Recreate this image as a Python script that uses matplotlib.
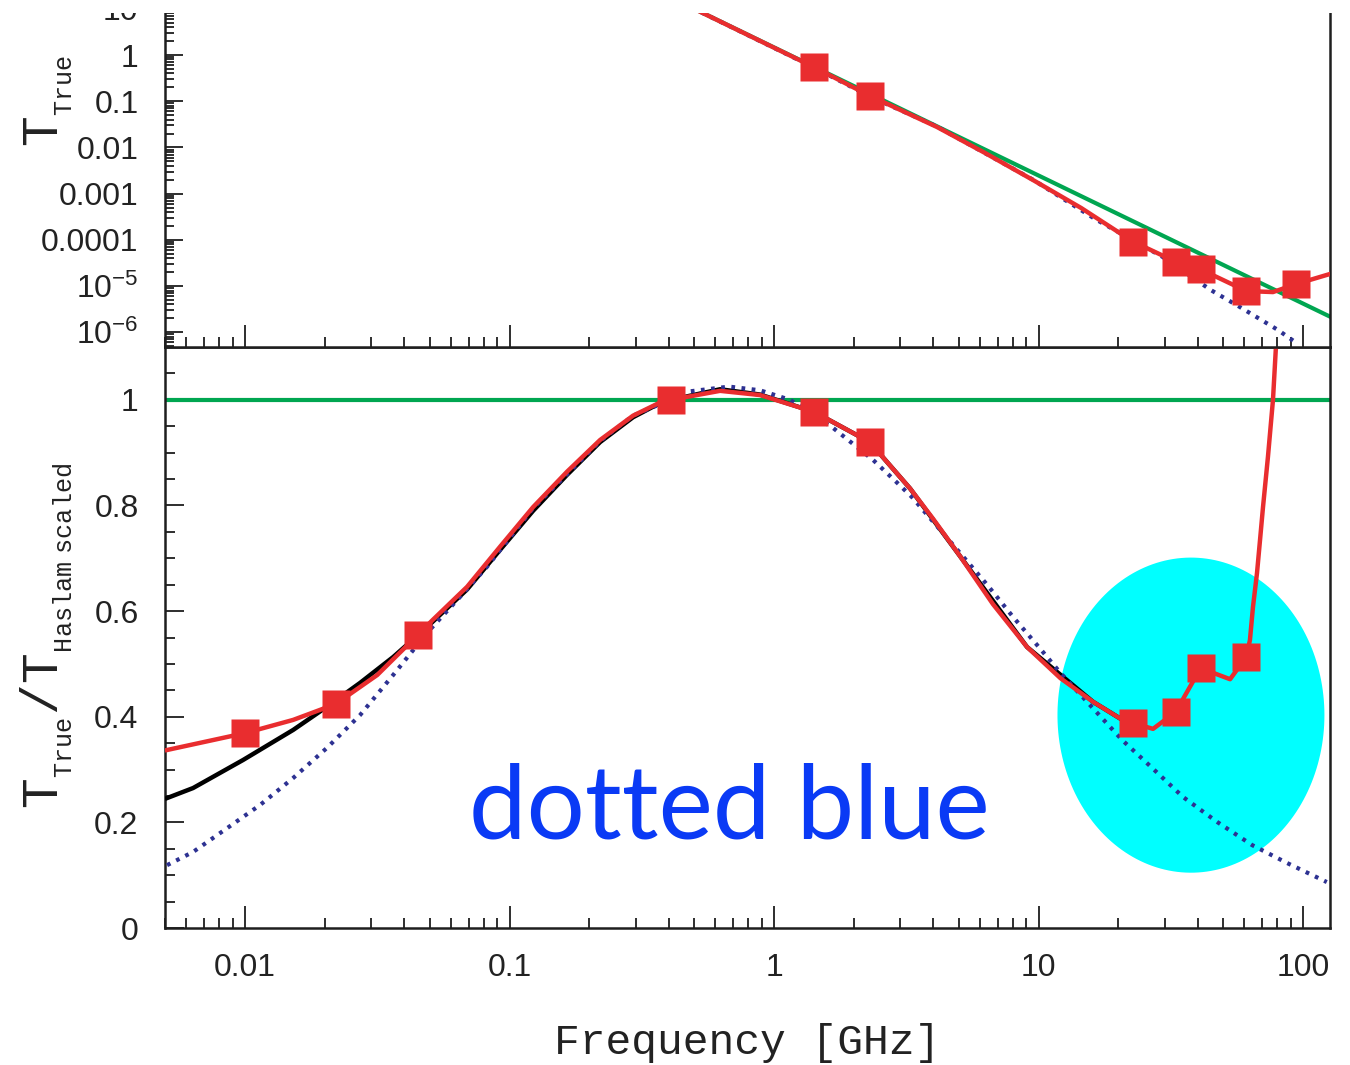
import numpy as np
import matplotlib
matplotlib.use('Agg')
import matplotlib.pyplot as plt
from matplotlib.ticker import FixedLocator, FixedFormatter, LogLocator, MultipleLocator, NullFormatter
from matplotlib.patches import Rectangle

plt.rcParams['font.family'] = ['Liberation Sans', 'DejaVu Sans']
plt.rcParams['mathtext.default'] = 'regular'

# channel frequencies [GHz] and T_true / T_Haslam,scaled at each (94 GHz is off scale)
nu_chan = [0.010, 0.022, 0.045, 0.408, 1.42, 2.3, 22.8, 33.0, 41.0, 61.0, 94.0]
ratio_chan = [0.369, 0.424, 0.555, 1.000, 0.977, 0.920, 0.388, 0.409, 0.492, 0.513, 2.6]

# T_true [K] at the channels visible in the upper panel
nu_top = [1.42, 2.3, 22.8, 33.0, 41.0, 61.0, 94.0]
t_top = [0.542, 0.1315, 9.1e-5, 3.36e-5, 2.30e-5, 7.8e-6, 1.10e-5]

# fitted spectrum, ratio to scaled Haslam
fit_nu = [0.00507, 0.010, 0.0152, 0.022, 0.0316, 0.045, 0.0514, 0.0691, 0.0921, 0.1228,
          0.165, 0.220, 0.293, 0.371, 0.408, 0.625, 0.885, 1.42, 2.3, 3.27, 3.99, 5.05,
          6.73, 9.05, 12.1, 16.1, 20.3, 22.8, 27.1, 33.0, 41.0, 53.0, 61.0, 63.0, 64.7,
          67.0, 68.8, 70.6, 73.7, 77.0, 79.0, 81.0]
fit_ratio = [0.337, 0.369, 0.394, 0.424, 0.479, 0.555, 0.584, 0.646, 0.722, 0.797,
             0.864, 0.924, 0.970, 0.995, 1.000, 1.017, 1.009, 0.977, 0.920, 0.832, 0.775, 0.704,
             0.613, 0.532, 0.473, 0.428, 0.397, 0.388, 0.377, 0.409, 0.492, 0.471, 0.513, 0.545, 0.608,
             0.672, 0.735, 0.797, 0.892, 1.000, 1.100, 1.250]

# model without low-frequency absorption
model_nu = [0.00507, 0.00636, 0.00982, 0.0152, 0.0204, 0.0272, 0.0363, 0.0488, 0.0691, 0.0921,
            0.1228, 0.165, 0.220, 0.293, 0.371, 0.408, 0.625, 0.885, 1.42, 2.3, 3.27, 5.05,
            9.05, 16.1, 20.3]
model_ratio = [0.246, 0.265, 0.318, 0.375, 0.419, 0.464, 0.513, 0.570, 0.641, 0.716,
               0.790, 0.858, 0.920, 0.967, 0.994, 1.000, 1.020, 1.010, 0.977, 0.920, 0.832, 0.704,
               0.532, 0.428, 0.397]

# synchrotron-only curve (dotted)
sync_nu = [0.00507, 0.00636, 0.00855, 0.0114, 0.0152, 0.0204, 0.0272, 0.0363, 0.0488, 0.0650,
           0.0822, 0.1228, 0.220, 0.293, 0.481, 0.676, 0.885, 1.149, 1.67, 2.37, 2.92, 3.32,
           5.05, 6.39, 8.01, 10.1, 12.1, 15.4, 20.7, 26.9, 35.2, 47.3, 64.2, 87.1, 123.0]
sync_ratio = [0.119, 0.144, 0.189, 0.233, 0.284, 0.341, 0.403, 0.479, 0.559, 0.627,
              0.684, 0.795, 0.922, 0.970, 1.016, 1.025, 1.018, 1.000, 0.947, 0.886, 0.843, 0.816,
              0.710, 0.650, 0.589, 0.530, 0.483, 0.426, 0.356, 0.303, 0.248, 0.201, 0.157, 0.123, 0.087]

# upper panel curves, T [K]
topfit_nu = [0.408, 1.42, 2.3, 4.13, 6.28, 9.53, 14.5, 22.8, 33.0, 41.0, 61.0, 77.0, 94.0, 130.0]
topfit_t = [17.5, 0.542, 0.1315, 0.0277, 7.57e-3, 1.97e-3, 4.88e-4, 9.1e-5, 3.36e-5, 2.30e-5,
            7.8e-6, 7.4e-6, 1.10e-5, 1.91e-5]
haslam_nu = [0.408, 126.0]
haslam_t = [17.5, 2.2e-6]
topsync_nu = [0.408, 1.42, 2.3, 4.13, 9.53, 16.4, 29.4, 44.8, 57.5, 80.4, 94.9]
topsync_t = [17.5, 0.533, 0.127, 0.0283, 2.0e-3, 2.8e-4, 4.3e-5, 8.2e-6, 3.56e-6, 1.12e-6, 5.75e-7]

# highlighted region: centre (GHz, ratio) and half-axes (decades, ratio)
hl_center = (37.7, 0.403)
hl_half = (0.5047, 0.2983)

x_ticks = [0.01, 0.1, 1, 10, 100]
x_labels = ['0.01', '0.1', '1', '10', '100']
top_y_ticks = [1e-6, 1e-5, 1e-4, 1e-3, 1e-2, 0.1, 1, 10, 100]
top_y_labels = ['$10^{-6}$', '$10^{-5}$', '0.0001', '0.001', '0.01', '0.1', '1', '10', '100']
bot_y_ticks = [0, 0.2, 0.4, 0.6, 0.8, 1.0]
bot_y_labels = ['0', '0.2', '0.4', '0.6', '0.8', '1']

RED = '#e92d2f'
GREEN = '#00a651'
NAVY = '#2d3192'
AXC = '#1e1e1e'
TXT = '#222222'
MONO = ['Liberation Mono', 'DejaVu Sans Mono']
DOTS = (0, (0.9, 1.55))

W, H = 1350, 1065
fig = plt.figure(figsize=(W / 100, H / 100), dpi=100)
ax_bot = fig.add_axes([165 / W, 1 - 928 / H, 1165 / W, 581 / H])
ax_top = fig.add_axes([165 / W, 1 - 347 / H, 1165 / W, 384.4 / H], sharex=ax_bot)

xlim = (0.00498, 126.5)

# ---- lower panel: ratio
ax = ax_bot
th = np.linspace(0, 2 * np.pi, 200)
ex = 10 ** (np.log10(hl_center[0]) + hl_half[0] * np.cos(th))
ey = hl_center[1] + hl_half[1] * np.sin(th)
ax.fill(ex, ey, color='#00ffff', lw=0, zorder=1)
ax.axhline(1.0, color=GREEN, lw=3.0, zorder=2)
ax.plot(model_nu, model_ratio, color='black', lw=3.2, zorder=3, solid_joinstyle='round')
ax.plot(sync_nu, sync_ratio, color=NAVY, lw=3.0, ls=DOTS, zorder=4)
ax.plot(fit_nu, fit_ratio, color=RED, lw=3.2, zorder=5, solid_joinstyle='round')
ax.plot(nu_chan, ratio_chan, ls='none', marker='s', ms=19.5, mec='none', mfc=RED, zorder=6)
ax.text(0.676, 0.170, 'dotted blue', ha='center', va='baseline', fontsize=74,
        family=['Lato', 'DejaVu Sans'], color='#0a3af5', zorder=7)

ax.set_xscale('log')
ax.set_xlim(*xlim)
ax.set_ylim(0, 1.1)
ax.xaxis.set_major_locator(FixedLocator(x_ticks))
ax.xaxis.set_major_formatter(FixedFormatter(x_labels))
ax.xaxis.set_minor_locator(LogLocator(base=10, subs=np.arange(2, 10), numticks=20))
ax.xaxis.set_minor_formatter(NullFormatter())
ax.yaxis.set_major_locator(FixedLocator(bot_y_ticks))
ax.yaxis.set_major_formatter(FixedFormatter(bot_y_labels))
ax.yaxis.set_minor_locator(MultipleLocator(0.05))
ax.tick_params(axis='x', which='major', direction='in', length=16, width=1.3, pad=18,
               labelsize=23, color=AXC, labelcolor=TXT)
ax.tick_params(axis='x', which='minor', direction='in', length=7.5, width=1.3, color=AXC)
ax.tick_params(axis='y', which='major', direction='in', length=14, width=1.3, pad=19,
               labelsize=23, color=AXC, labelcolor=TXT)
ax.tick_params(axis='y', which='minor', direction='in', length=7, width=1.3, color=AXC)
ax.set_xlabel('Frequency [GHz]', fontsize=31, family=MONO, va='center', color=TXT)
ax.xaxis.set_label_coords(0.5, -(1043 - 928) / 581)
ax.set_ylabel(r'$T_{{}_{True}}/T_{{}_{Haslam\ scaled}}$', fontsize=37, family=MONO,
              va='center', ha='center', color=TXT)
ax.yaxis.set_label_coords((46 - 165) / 1165, (928 - 636) / 581)

# ---- upper panel: temperature
ax = ax_top
ax.plot(haslam_nu, haslam_t, color=GREEN, lw=3.0, zorder=2)
ax.plot(topsync_nu, topsync_t, color=NAVY, lw=3.0, ls=DOTS, zorder=3)
ax.plot(topfit_nu, topfit_t, color=RED, lw=3.2, zorder=4, solid_joinstyle='round')
ax.plot(nu_top, t_top, ls='none', marker='s', ms=19.5, mec='none', mfc=RED, zorder=5)
ax.set_yscale('log')
ax.set_xlim(*xlim)
ax.set_ylim(4.79e-7, 100)
ax.yaxis.set_major_locator(FixedLocator(top_y_ticks))
ax.yaxis.set_major_formatter(FixedFormatter(top_y_labels))
ax.yaxis.set_minor_locator(LogLocator(base=10, subs=np.arange(2, 10), numticks=20))
ax.yaxis.set_minor_formatter(NullFormatter())
ax.tick_params(axis='x', which='both', labelbottom=False)
ax.tick_params(axis='x', which='major', direction='in', length=16, width=1.3, color=AXC)
ax.tick_params(axis='x', which='minor', direction='in', length=7.5, width=1.3, color=AXC)
ax.tick_params(axis='y', which='major', direction='in', length=13, width=1.3, pad=19,
               labelsize=23, color=AXC, labelcolor=TXT)
ax.tick_params(axis='y', which='minor', direction='in', length=6.5, width=1.3, color=AXC)
fig.text(46 / W, 1 - 147 / H, r'$T_{{}_{True}}$ [K]', rotation=90, ha='center', va='bottom',
         fontsize=37, family=MONO, color=TXT)

for a in (ax_bot, ax_top):
    for s in a.spines.values():
        s.set_linewidth(1.8)
        s.set_color(AXC)
ax_top.spines['top'].set_visible(False)

# blank strip along the top edge
fig.add_artist(Rectangle((0, 1 - 13 / H), 1, 13 / H, transform=fig.transFigure,
                         facecolor='white', edgecolor='none', zorder=100))

fig.savefig('out.png', dpi=100)
